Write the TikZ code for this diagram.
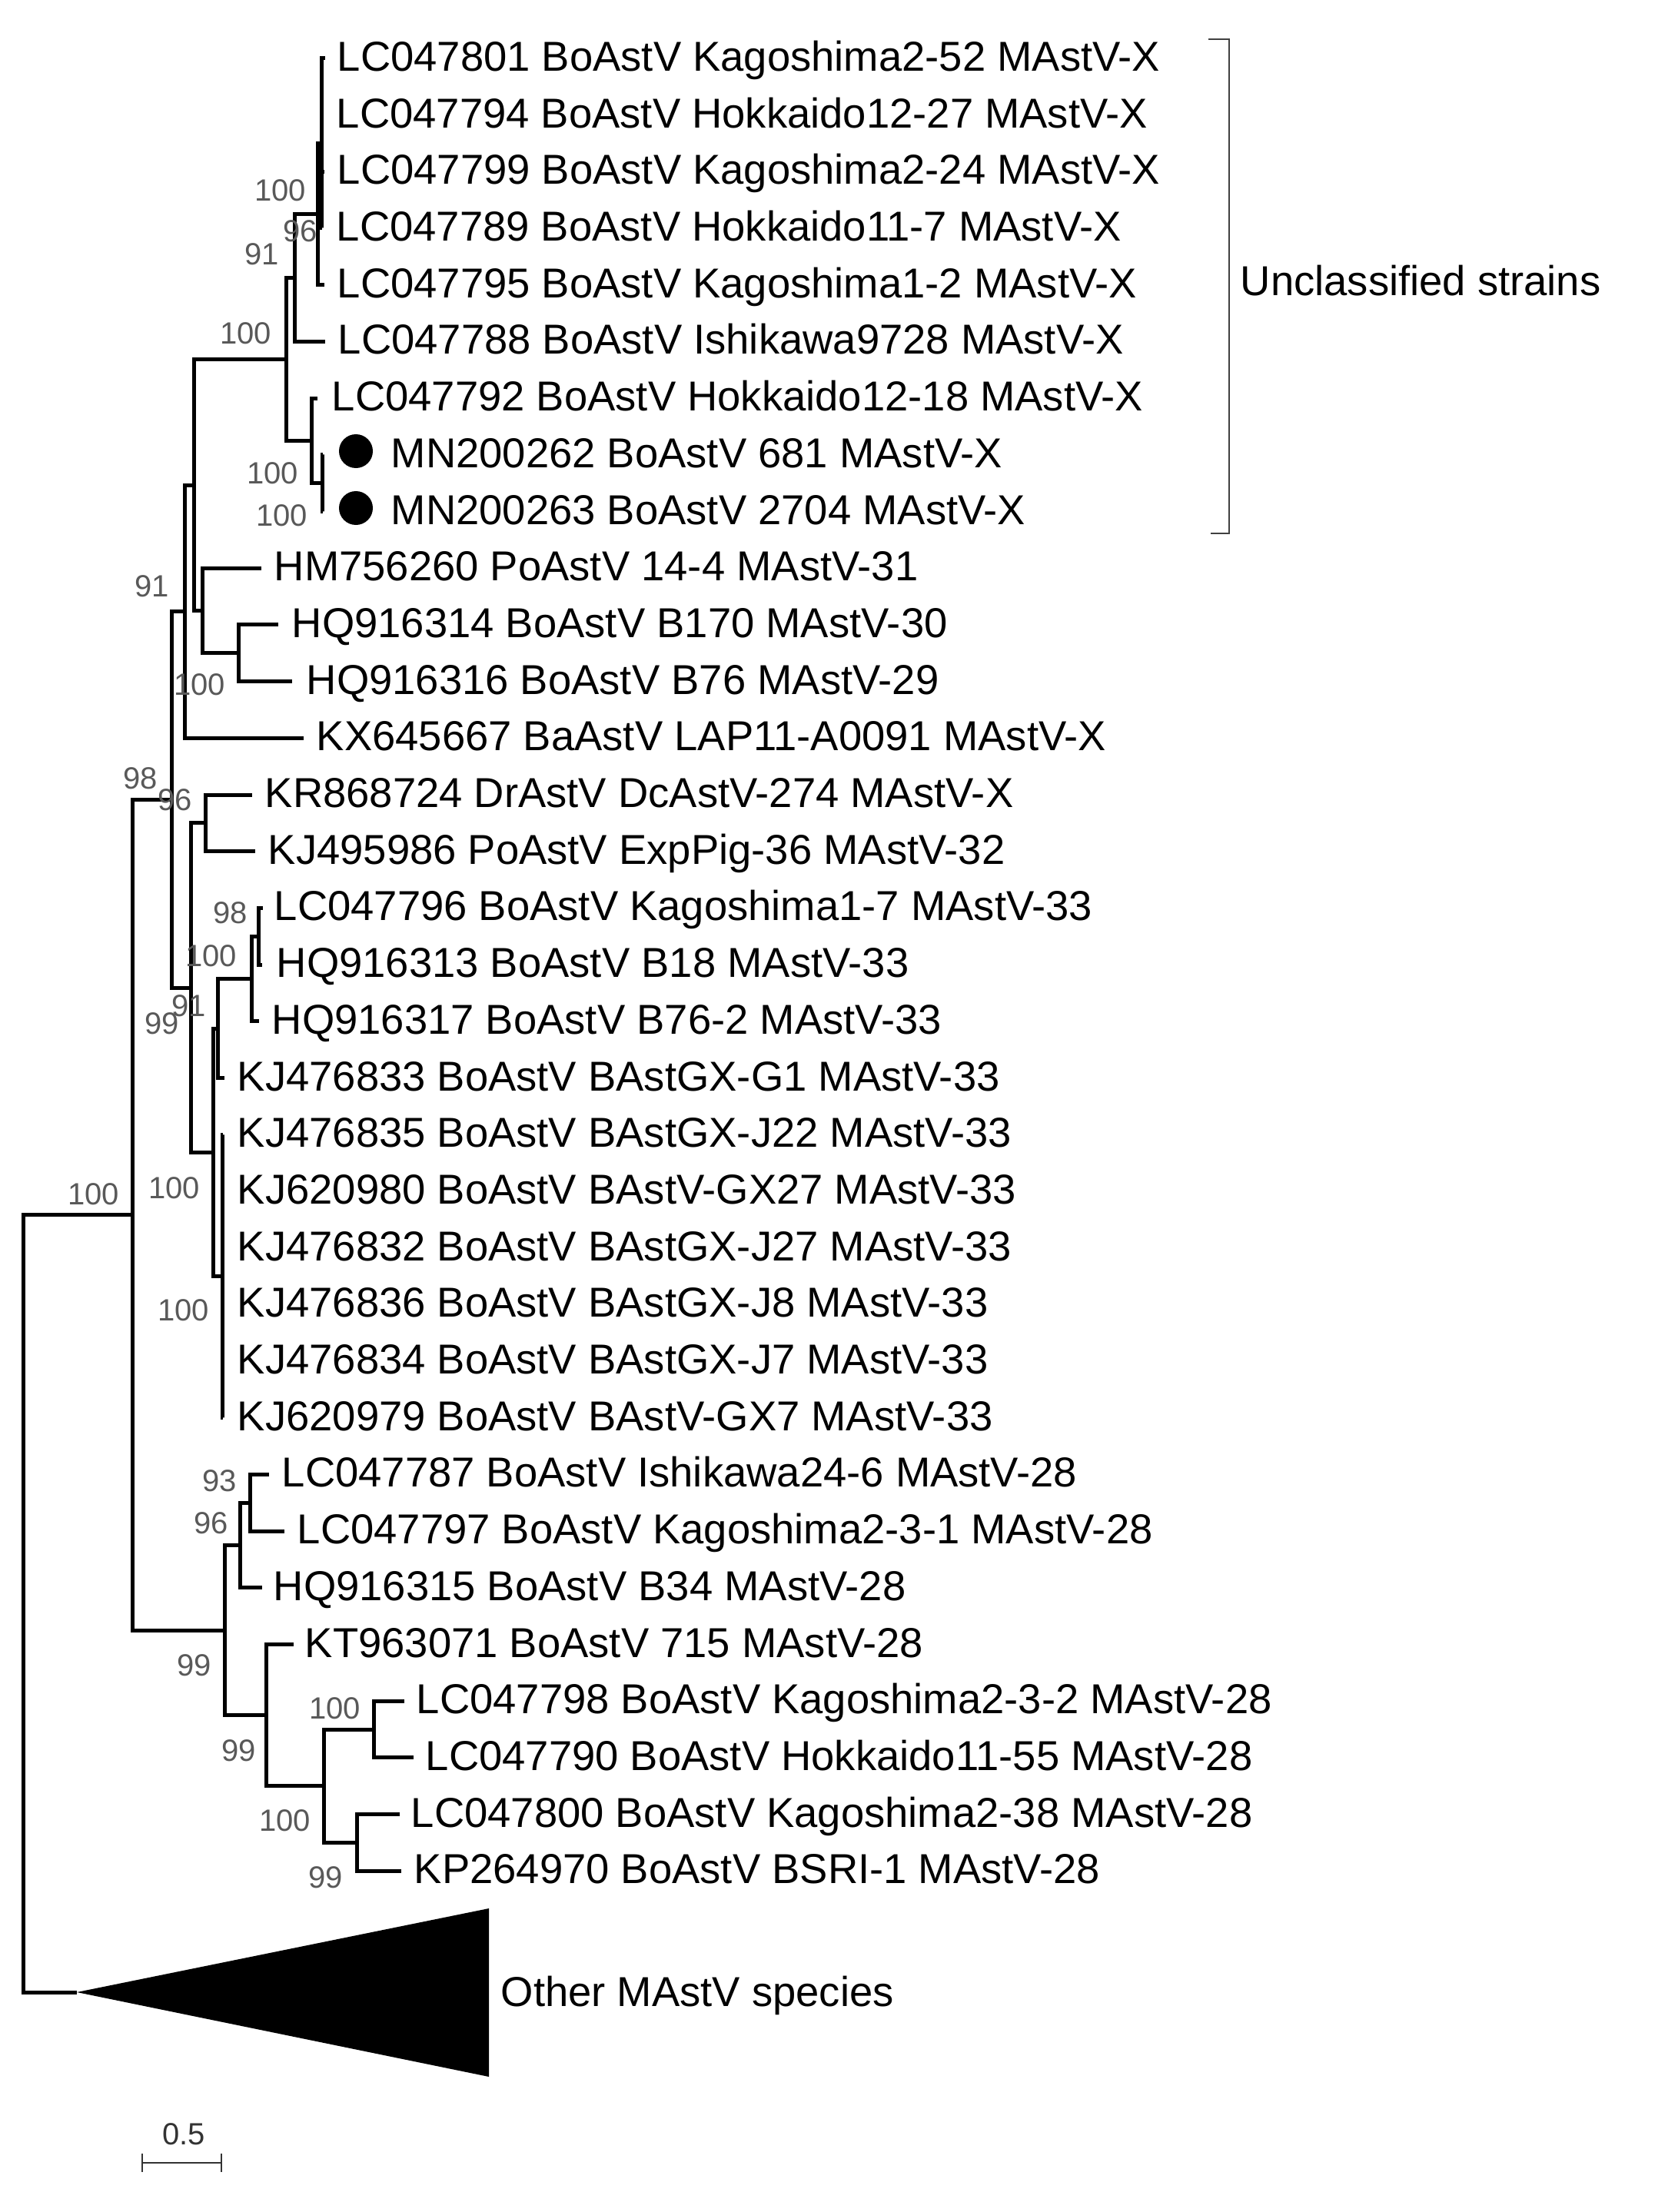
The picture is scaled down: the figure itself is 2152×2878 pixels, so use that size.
\documentclass[tikz,border=0pt]{standalone}
\usepackage{fontspec}
\setmainfont{Liberation Sans}
\begin{document}
\begin{tikzpicture}[x=0.25pt,y=-0.25pt,
  br/.style={line width=1.25pt,line join=miter},
  leaf/.style={anchor=base west,inner sep=0pt,font=\fontsize{13.6}{16}\selectfont},
  bs/.style={anchor=base east,inner sep=0pt,font=\fontsize{10}{12}\selectfont,text=black!65},
  dotc/.style={circle,fill=black,inner sep=0pt,minimum size=11pt},
  thin/.style={line width=0.45pt,draw=black!75}]
\useasboundingbox (0,0) rectangle (2152,2878);
% ---- tips ----
\coordinate (t1) at (423,75.9);
\coordinate (t2) at (418.5,149.6);
\coordinate (t3) at (422,223.3);
\coordinate (t4) at (418.5,297.0);
\coordinate (t5) at (422,370.7);
\coordinate (t6) at (423,444.4);
\coordinate (t7) at (413,518.1);
\coordinate (t8) at (419.5,591.8);
\coordinate (t9) at (419.5,665.5);
\coordinate (t10) at (340,739.2);
\coordinate (t11) at (362,812.9);
\coordinate (t12) at (380,886.6);
\coordinate (t13) at (395,960.3);
\coordinate (t14) at (328,1034.0);
\coordinate (t15) at (332,1107.7);
\coordinate (t16) at (342,1181.4);
\coordinate (t17) at (341,1255.1);
\coordinate (t18) at (337,1328.8);
\coordinate (t19) at (292,1402.5);
\coordinate (t20) at (289.5,1476.2);
\coordinate (t21) at (289.5,1549.9);
\coordinate (t22) at (289.5,1623.6);
\coordinate (t23) at (289.5,1697.3);
\coordinate (t24) at (289.5,1771.0);
\coordinate (t25) at (289.5,1844.7);
\coordinate (t26) at (350,1918.4);
\coordinate (t27) at (370,1992.1);
\coordinate (t28) at (341,2065.8);
\coordinate (t29) at (382,2139.5);
\coordinate (t30) at (526,2213.2);
\coordinate (t31) at (538,2286.9);
\coordinate (t32) at (520,2360.6);
\coordinate (t33) at (522,2434.3);
\coordinate (apex) at (100,2592);
% ---- internal nodes ----
\coordinate (nB) at (418,186.5);
\coordinate (nA) at (413,278.6);
\coordinate (n383) at (383,361.5);
\coordinate (n419) at (419,628.7);
\coordinate (n405) at (405,573.4);
\coordinate (n372) at (372,467.5);
\coordinate (n310) at (310,849.8);
\coordinate (n263) at (263,794.5);
\coordinate (n252) at (252,631.0);
\coordinate (n240) at (240,795.7);
\coordinate (n267) at (267,1070.9);
\coordinate (n336) at (336,1218.3);
\coordinate (n327) at (327,1273.5);
\coordinate (n283) at (283,1338.0);
\coordinate (n289) at (289,1660.5);
\coordinate (n277) at (277,1499.0);
\coordinate (n248) at (248,1285.0);
\coordinate (n223) at (223,1040.4);
\coordinate (n325) at (325,1955.3);
\coordinate (n312) at (312,2010.5);
\coordinate (n486) at (486,2250.0);
\coordinate (n464) at (464,2397.5);
\coordinate (n421) at (421,2323.8);
\coordinate (n346) at (346,2231.6);
\coordinate (n292) at (292,2121.0);
\coordinate (n172) at (172,1580.7);
\coordinate (root) at (30,2086);
% ---- branches ----
\foreach \c in {t1,t2,t3,t4} \draw[br] (nB) |- (\c);
\draw[br] (nA) |- (nB); \draw[br] (nA) |- (t5);
\draw[br] (n383) |- (nA); \draw[br] (n383) |- (t6);
\draw[br] (n419) |- (t8); \draw[br] (n419) |- (t9);
\draw[br] (n405) |- (t7); \draw[br] (n405) |- (n419);
\draw[br] (n372) |- (n383); \draw[br] (n372) |- (n405);
\draw[br] (n310) |- (t11); \draw[br] (n310) |- (t12);
\draw[br] (n263) |- (t10); \draw[br] (n263) |- (n310);
\draw[br] (n252) |- (n372); \draw[br] (n252) |- (n263);
\draw[br] (n240) |- (n252); \draw[br] (n240) |- (t13);
\draw[br] (n267) |- (t14); \draw[br] (n267) |- (t15);
\draw[br] (n336) |- (t16); \draw[br] (n336) |- (t17);
\draw[br] (n327) |- (n336); \draw[br] (n327) |- (t18);
\draw[br] (n283) |- (n327); \draw[br] (n283) |- (t19);
\foreach \c in {t20,t21,t22,t23,t24,t25} \draw[br] (n289) |- (\c);
\draw[br] (n277) |- (n283); \draw[br] (n277) |- (n289);
\draw[br] (n248) |- (n267); \draw[br] (n248) |- (n277);
\draw[br] (n223) |- (n240); \draw[br] (n223) |- (n248);
\draw[br] (n325) |- (t26); \draw[br] (n325) |- (t27);
\draw[br] (n312) |- (n325); \draw[br] (n312) |- (t28);
\draw[br] (n486) |- (t30); \draw[br] (n486) |- (t31);
\draw[br] (n464) |- (t32); \draw[br] (n464) |- (t33);
\draw[br] (n421) |- (n486); \draw[br] (n421) |- (n464);
\draw[br] (n346) |- (t29); \draw[br] (n346) |- (n421);
\draw[br] (n292) |- (n312); \draw[br] (n292) |- (n346);
\draw[br] (n172) |- (n223); \draw[br] (n172) |- (n292);
\draw[br] (root) |- (n172); \draw[br] (root) |- (apex);
% collapsed clade
\coordinate (triT) at (636,2483);
\coordinate (triB) at (636,2702);
\fill (apex) -- (triT) -- (triB) -- cycle;
% ---- leaf labels ----
\node[leaf] (l1) at (438,92.4) {LC047801 BoAstV Kagoshima2-52 MAstV-X};
\node[leaf] (l2) at (437,166.1) {LC047794 BoAstV Hokkaido12-27 MAstV-X};
\node[leaf] (l3) at (438,239.8) {LC047799 BoAstV Kagoshima2-24 MAstV-X};
\node[leaf] (l4) at (437,313.5) {LC047789 BoAstV Hokkaido11-7 MAstV-X};
\node[leaf] (l5) at (438,387.2) {LC047795 BoAstV Kagoshima1-2 MAstV-X};
\node[leaf] (l6) at (439,460.9) {LC047788 BoAstV Ishikawa9728 MAstV-X};
\node[leaf] (l7) at (431,534.6) {LC047792 BoAstV Hokkaido12-18 MAstV-X};
\node[dotc] (d8) at (463,587) {};
\node[dotc] (d9) at (463,661) {};
\node[leaf] (l8) at (508,608.3) {MN200262 BoAstV 681 MAstV-X};
\node[leaf] (l9) at (508,682.0) {MN200263 BoAstV 2704 MAstV-X};
\node[leaf] (l10) at (356,755.7) {HM756260 PoAstV 14-4 MAstV-31};
\node[leaf] (l11) at (379,829.4) {HQ916314 BoAstV B170 MAstV-30};
\node[leaf] (l12) at (398,903.1) {HQ916316 BoAstV B76 MAstV-29};
\node[leaf] (l13) at (411,976.8) {KX645667 BaAstV LAP11-A0091 MAstV-X};
\node[leaf] (l14) at (344,1050.5) {KR868724 DrAstV DcAstV-274 MAstV-X};
\node[leaf] (l15) at (348,1124.2) {KJ495986 PoAstV ExpPig-36 MAstV-32};
\node[leaf] (l16) at (356,1197.9) {LC047796 BoAstV Kagoshima1-7 MAstV-33};
\node[leaf] (l17) at (359,1271.6) {HQ916313 BoAstV B18 MAstV-33};
\node[leaf] (l18) at (353,1345.3) {HQ916317 BoAstV B76-2 MAstV-33};
\node[leaf] (l19) at (308,1419.0) {KJ476833 BoAstV BAstGX-G1 MAstV-33};
\node[leaf] (l20) at (308,1492.7) {KJ476835 BoAstV BAstGX-J22 MAstV-33};
\node[leaf] (l21) at (308,1566.4) {KJ620980 BoAstV BAstV-GX27 MAstV-33};
\node[leaf] (l22) at (308,1640.1) {KJ476832 BoAstV BAstGX-J27 MAstV-33};
\node[leaf] (l23) at (308,1713.8) {KJ476836 BoAstV BAstGX-J8 MAstV-33};
\node[leaf] (l24) at (308,1787.5) {KJ476834 BoAstV BAstGX-J7 MAstV-33};
\node[leaf] (l25) at (308,1861.2) {KJ620979 BoAstV BAstV-GX7 MAstV-33};
\node[leaf] (l26) at (366,1934.9) {LC047787 BoAstV Ishikawa24-6 MAstV-28};
\node[leaf] (l27) at (386,2008.6) {LC047797 BoAstV Kagoshima2-3-1 MAstV-28};
\node[leaf] (l28) at (355,2082.3) {HQ916315 BoAstV B34 MAstV-28};
\node[leaf] (l29) at (396,2156.0) {KT963071 BoAstV 715 MAstV-28};
\node[leaf] (l30) at (541,2229.7) {LC047798 BoAstV Kagoshima2-3-2 MAstV-28};
\node[leaf] (l31) at (553,2303.4) {LC047790 BoAstV Hokkaido11-55 MAstV-28};
\node[leaf] (l32) at (534,2377.1) {LC047800 BoAstV Kagoshima2-38 MAstV-28};
\node[leaf] (l33) at (538,2450.8) {KP264970 BoAstV BSRI-1 MAstV-28};
\node[leaf] (lother) at (651,2610) {Other MAstV species};
% ---- bracket ----
\coordinate (bk1) at (1572,51);
\coordinate (bk2) at (1599,51);
\coordinate (bk3) at (1599,694);
\coordinate (bk4) at (1575,694);
\draw[thin,line width=0.5pt] (bk1) -- (bk2) -- (bk3) -- (bk4);
\node[leaf] (lunc) at (1613,385) {Unclassified strains};
% ---- bootstrap values ----
\node[bs] (b1) at (399,261.5) {100};
\node[bs] (b2) at (414,314.5) {96};
\node[bs] (b3) at (364,344.5) {91};
\node[bs] (b4) at (354,447.5) {100};
\node[bs] (b5) at (389,629.5) {100};
\node[bs] (b6) at (401,684.5) {100};
\node[bs] (b7) at (221,776.5) {91};
\node[bs] (b8) at (294,904.5) {100};
\node[bs] (b9) at (206,1026.5) {98};
\node[bs] (b10) at (251,1054.5) {96};
\node[bs] (b11) at (323,1201.5) {98};
\node[bs] (b12) at (309,1257.5) {100};
\node[bs] (b13) at (269,1322.5) {91};
\node[bs] (b14) at (234,1345.5) {99};
\node[bs] (b15) at (261,1559.5) {100};
\node[bs] (b16) at (273,1718.5) {100};
\node[bs] (b17) at (156,1567.5) {100};
\node[bs] (b18) at (309,1940.5) {93};
\node[bs] (b19) at (298,1995.5) {96};
\node[bs] (b20) at (276,2180.5) {99};
\node[bs] (b21) at (334,2291.5) {99};
\node[bs] (b22) at (470,2236.5) {100};
\node[bs] (b23) at (405,2382.5) {100};
\node[bs] (b24) at (447,2456.5) {99};
% ---- scale bar ----
\coordinate (sbL) at (185,2814);
\coordinate (sbR) at (288,2814);
\draw[line width=0.5pt,black!80] (sbL) -- (sbR);
\draw[line width=0.5pt,black!80] ([yshift=3pt]sbL) -- ([yshift=-3pt]sbL);
\draw[line width=0.5pt,black!80] ([yshift=3pt]sbR) -- ([yshift=-3pt]sbR);
\node[bs,anchor=base,text=black!80] (sblab) at (239,2790) {0.5};
\end{tikzpicture}
\end{document}
